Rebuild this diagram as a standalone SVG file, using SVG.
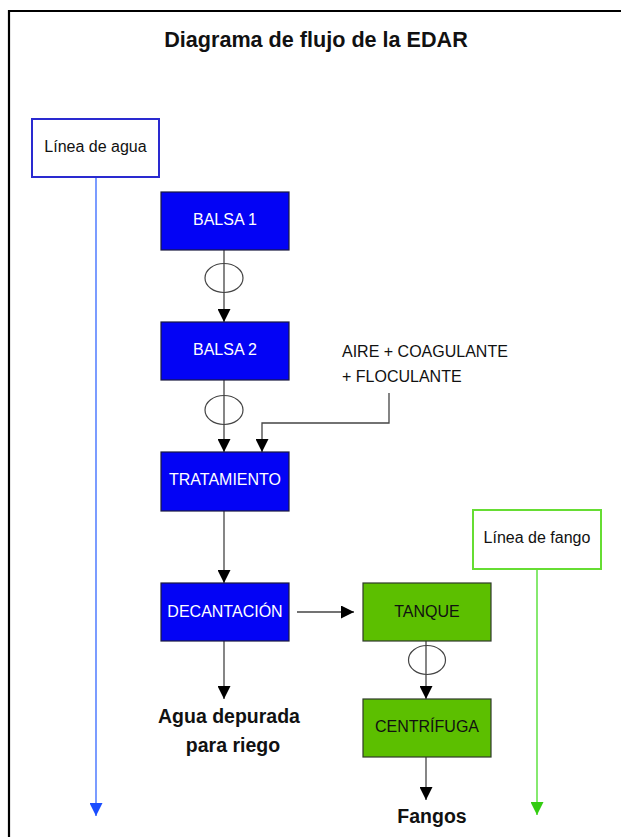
<svg xmlns="http://www.w3.org/2000/svg" width="621" height="837" viewBox="0 0 621 837">
<style>
text{font-family:"Liberation Sans",Arial,sans-serif;}
.t{font-size:16px;text-anchor:middle;}
.w{fill:#ffffff;}
.k{fill:#111111;}
.b{font-weight:bold;font-size:19.5px;text-anchor:middle;fill:#111111;}
.bluebox{fill:#0303f5;stroke:#1a1a40;stroke-width:1.2;}
.greenbox{fill:#5cbf00;stroke:#2f3a2a;stroke-width:1.2;}
.conn{fill:none;stroke:#444444;stroke-width:1.3;}
.valve{fill:none;stroke:#444444;stroke-width:1.2;}
</style>
<defs>
<marker id="ah" viewBox="0 0 10 10" refX="10" refY="5" markerWidth="13" markerHeight="13" markerUnits="userSpaceOnUse" orient="auto">
<path d="M0,0 L10,5 L0,10 z" fill="#000000"/>
</marker>
<marker id="ahb" viewBox="0 0 10 10" refX="10" refY="5" markerWidth="13" markerHeight="13" markerUnits="userSpaceOnUse" orient="auto">
<path d="M0,0 L10,5 L0,10 z" fill="#1a4dff"/>
</marker>
<marker id="ahg" viewBox="0 0 10 10" refX="10" refY="5" markerWidth="13" markerHeight="13" markerUnits="userSpaceOnUse" orient="auto">
<path d="M0,0 L10,5 L0,10 z" fill="#33cc11"/>
</marker>
</defs>
<rect width="621" height="837" fill="#ffffff"/>
<path d="M9,837 L9,11 L621,11" fill="none" stroke="#000000" stroke-width="2.2"/>
<text x="316" y="47" style="font-weight:bold;font-size:21.6px;text-anchor:middle;fill:#111111">Diagrama de flujo de la EDAR</text>

<g id="connectors">
<line x1="96" y1="177" x2="96" y2="816" stroke="#3366ff" stroke-width="1.3" marker-end="url(#ahb)"/>
<line x1="537" y1="569" x2="537" y2="815" stroke="#44dd22" stroke-width="1.3" marker-end="url(#ahg)"/>
<line class="conn" x1="224" y1="250" x2="224" y2="322" marker-end="url(#ah)"/>
<line class="conn" x1="224" y1="380" x2="224" y2="452" marker-end="url(#ah)"/>
<path class="conn" d="M389,393 L389,423 L262,423 L262,452" marker-end="url(#ah)"/>
<line class="conn" x1="224" y1="511" x2="224" y2="583" marker-end="url(#ah)"/>
<line class="conn" x1="224" y1="641" x2="224" y2="699" marker-end="url(#ah)"/>
<line class="conn" x1="297" y1="612" x2="354" y2="612" marker-end="url(#ah)"/>
<line class="conn" x1="426" y1="641" x2="426" y2="699" marker-end="url(#ah)"/>
<line class="conn" x1="426" y1="757" x2="426" y2="800" marker-end="url(#ah)"/>
</g>

<g id="valve1"><ellipse class="valve" cx="224" cy="278" rx="19" ry="14.5"/></g>
<g id="valve2"><ellipse class="valve" cx="224" cy="410" rx="19" ry="14.5"/></g>
<g id="valve3"><ellipse class="valve" cx="427" cy="660" rx="18.5" ry="14.5"/></g>

<g id="linea-agua">
<rect x="32" y="119" width="127" height="58" fill="#ffffff" stroke="#2a2ad0" stroke-width="2"/>
<text class="t k" x="95.5" y="152">Línea de agua</text>
</g>
<g id="linea-fango">
<rect x="473" y="510" width="128" height="59" fill="#ffffff" stroke="#66dd33" stroke-width="2"/>
<text class="t k" x="537" y="543">Línea de fango</text>
</g>

<g id="balsa1">
<rect class="bluebox" x="161" y="192" width="128" height="58"/>
<text class="t w" x="225" y="225">BALSA 1</text>
</g>
<g id="balsa2">
<rect class="bluebox" x="161" y="322" width="128" height="58"/>
<text class="t w" x="225" y="355">BALSA 2</text>
</g>
<g id="aditivos">
<text x="342" y="357" style="font-size:16px;fill:#111111">AIRE + COAGULANTE</text>
<text x="342" y="382" style="font-size:16px;fill:#111111">+ FLOCULANTE</text>
</g>
<g id="tratamiento">
<rect class="bluebox" x="161" y="452" width="128" height="59"/>
<text class="t w" x="225" y="485">TRATAMIENTO</text>
</g>
<g id="decantacion">
<rect class="bluebox" x="161" y="583" width="128" height="58"/>
<text class="t w" x="225" y="617">DECANTACIÓN</text>
</g>
<g id="tanque">
<rect class="greenbox" x="363" y="583" width="128" height="58"/>
<text class="t k" x="427" y="617">TANQUE</text>
</g>
<g id="centrifuga">
<rect class="greenbox" x="363" y="699" width="128" height="58"/>
<text class="t k" x="427" y="732">CENTRÍFUGA</text>
</g>
<g id="agua-depurada">
<text class="b" x="229" y="723">Agua depurada</text>
<text class="b" x="233" y="752">para riego</text>
</g>
<g id="fangos">
<text class="b" x="432" y="823">Fangos</text>
</g>
</svg>
